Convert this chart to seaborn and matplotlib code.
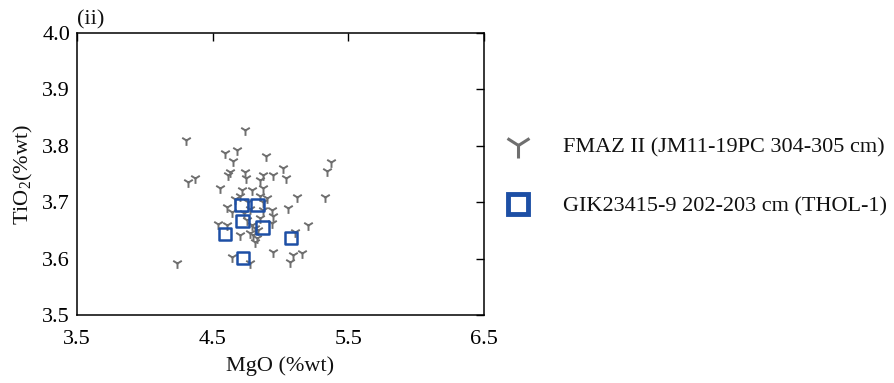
import matplotlib
matplotlib.use("Agg")
import matplotlib.pyplot as plt
from matplotlib.lines import Line2D
import seaborn as sns
import pandas as pd

# FMAZ II (JM11-19PC 304-305 cm)
fmaz_mgo = [4.738, 4.303, 4.591, 4.679, 4.650, 4.893, 5.372, 5.343, 5.018, 5.040,
            4.628, 4.613, 4.738, 4.746, 4.871, 4.945, 4.849, 4.370, 4.318, 4.554,
            4.716, 4.790, 4.871, 4.701, 4.849, 4.900, 5.122, 5.328, 4.665, 4.606,
            5.055, 4.937, 4.945, 4.643, 4.849, 4.753, 4.539, 4.606, 5.203, 4.937,
            5.107, 4.701, 4.775, 4.827, 4.797, 4.812, 4.945, 5.158, 5.092, 4.643,
            5.070, 4.775, 4.237, 4.760, 4.775, 4.812, 4.834, 4.730, 4.871, 4.871,
            4.790]
fmaz_tio2 = [3.828, 3.810, 3.787, 3.793, 3.773, 3.782, 3.771, 3.755, 3.761, 3.743,
             3.754, 3.748, 3.754, 3.743, 3.748, 3.748, 3.739, 3.743, 3.736, 3.725,
             3.722, 3.722, 3.725, 3.711, 3.711, 3.707, 3.709, 3.709, 3.706, 3.691,
             3.690, 3.686, 3.676, 3.683, 3.672, 3.668, 3.661, 3.660, 3.660, 3.663,
             3.647, 3.642, 3.645, 3.637, 3.642, 3.629, 3.612, 3.610, 3.606, 3.603,
             3.594, 3.592, 3.592, 3.701, 3.688, 3.655, 3.650, 3.680, 3.701, 3.686,
             3.660]

# GIK23415-9 202-203 cm (THOL-1)
gik_mgo = [4.591, 4.724, 5.077, 4.714, 4.829, 4.721, 4.866]
gik_tio2 = [3.644, 3.601, 3.637, 3.695, 3.695, 3.667, 3.655]

label_fmaz = "FMAZ II (JM11-19PC 304-305 cm)"
label_gik = "GIK23415-9 202-203 cm (THOL-1)"
x_ticks = [3.5, 4.5, 5.5, 6.5]
y_ticks = [3.5, 3.6, 3.7, 3.8, 3.9, 4.0]

sns.set_theme(style="white")
plt.rcParams["font.family"] = ["Liberation Serif", "DejaVu Serif"]
plt.rcParams["mathtext.fontset"] = "custom"
plt.rcParams["mathtext.rm"] = "Liberation Serif"
plt.rcParams["mathtext.it"] = "Liberation Serif:italic"

gray = "#6f6f6f"
blue = "#1d4fa5"

fig = plt.figure(figsize=(8.94, 3.83), dpi=100)
ax = fig.add_axes([0.0861, 0.1775, 0.4553, 0.7363])

df1 = pd.DataFrame({"MgO": fmaz_mgo, "TiO2": fmaz_tio2})
df2 = pd.DataFrame({"MgO": gik_mgo, "TiO2": gik_tio2})

sns.scatterplot(data=df1, x="MgO", y="TiO2", ax=ax, marker="1", s=60,
                color=gray, linewidth=1.4, legend=False, zorder=2)
sns.scatterplot(data=df2, x="MgO", y="TiO2", ax=ax, marker="s", s=80,
                facecolor="none", edgecolor=blue, linewidth=1.8,
                legend=False, zorder=3)

ax.set_xlim(3.5, 6.5)
ax.set_ylim(3.5, 4.0)
ax.set_xticks(x_ticks)
ax.set_yticks(y_ticks)
ax.set_xticklabels([f"{v:.1f}" for v in x_ticks])
ax.set_yticklabels([f"{v:.1f}" for v in y_ticks])
ax.tick_params(direction="in", length=5.5, width=1.0, top=True, right=True,
               labelsize=16, colors="black")
ax.tick_params(axis="x", pad=11)
ax.tick_params(axis="y", pad=5)
for sp in ax.spines.values():
    sp.set_visible(True)
    sp.set_color("black")
    sp.set_linewidth(1.1)

ax.set_xlabel("MgO (%wt)", fontsize=16, color="#111111", labelpad=5)
ax.set_ylabel("TiO$_2$(%wt)", fontsize=16, color="#111111", labelpad=5)
ax.text(0.0, 1.012, "(ii)", transform=ax.transAxes, fontsize=16,
        ha="left", va="bottom", color="#111111")

handles = [
    Line2D([], [], linestyle="none", marker="1", markersize=19,
           markeredgewidth=2.2, color=gray),
    Line2D([], [], linestyle="none", marker="s", markersize=15,
           markerfacecolor="white", markeredgecolor=blue, markeredgewidth=3.5),
]
fig.legend(handles, [label_fmaz, label_gik], loc="upper left",
           bbox_to_anchor=(0.5367, 0.694), frameon=False, fontsize=16,
           handlelength=1.6, handletextpad=1.25, labelspacing=1.74,
           borderpad=0.4, labelcolor="#111111")

fig.savefig("out.png", dpi=100)
